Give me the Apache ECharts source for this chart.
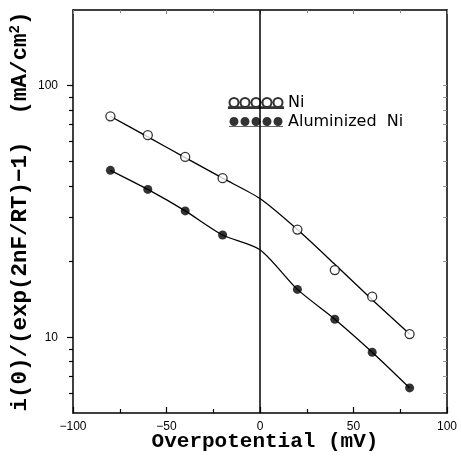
<!DOCTYPE html>
<html>
<head>
<meta charset="utf-8">
<script src="https://cdn.jsdelivr.net/npm/echarts@6/dist/echarts.min.js"></script>
<style>
html,body{margin:0;padding:0;background:#fff;}
#chart{width:461px;height:456px;}
</style>
</head>
<body>
<div id="chart"></div>
<script>
// Data
const xPoints = [-80, -60, -40, -20, 20, 40, 60, 80];
const niValues = [75.6, 63.6, 52.1, 42.9, 26.8, 18.5, 14.5, 10.3];
const alValues = [46.1, 38.7, 31.8, 25.5, 15.5, 11.8, 8.72, 6.29];
// Fitted curves as drawn in the picture (bend at 0 mV)
const fitX = [-80, -60, -40, -20, 0, 20, 40, 60, 80];
const niFit = [75.6, 62.6, 51.8, 42.9, 35.6, 26.8, 19.5, 14.1, 10.3];
const alFit = [46.1, 38.7, 31.8, 25.5, 22.3, 15.5, 11.8, 8.72, 6.29];
// Axis ticks
const xMin = -100, xMax = 100, xInterval = 50;
const yMin = 5, yMax = 200;
const yMajorTicks = [10, 100];
const yMinorTicks = [6, 7, 8, 9, 20, 30, 40, 50, 60, 70, 80, 90];
const seriesNames = ['Ni', 'Aluminized  Ni'];

const pair = (xs, ys) => xs.map((x, i) => [x, ys[i]]);
const fmtX = v => (v < 0 ? '\u2212' + Math.abs(v) : String(v));

const legendIcon = 'path://' +
  [0, 11, 22, 33, 44].map(cx =>
    'M' + (cx + 0.5) + ',4.5a4.5,4.5 0 1,0 9,0a4.5,4.5 0 1,0 -9,0Z').join('') +
  'M0,9.2L54,9.2L54,10L0,10Z';

const chart = echarts.init(document.getElementById('chart'), null, {renderer: 'canvas'});
const axisFont = {fontFamily: 'Liberation Sans, Arial, sans-serif', fontSize: 12, color: '#000'};
const titleFont = {fontFamily: 'Liberation Mono, DejaVu Sans Mono, monospace', fontWeight: 'bold', color: '#000'};

chart.setOption({
  animation: false,
  backgroundColor: '#fff',
  grid: {left: 73, right: 14, top: 10, bottom: 43, containLabel: false, outerBoundsMode: 'none'},
  legend: {
    orient: 'vertical',
    left: 228, top: 95, padding: 0,
    itemWidth: 54, itemHeight: 10, itemGap: 3,
    icon: legendIcon,
    data: seriesNames,
    textStyle: {fontFamily: 'DejaVu Sans, Verdana, sans-serif', fontSize: 16, color: '#000'},
    selectedMode: false
  },
  xAxis: [{
    type: 'value', min: xMin, max: xMax, interval: xInterval,
    position: 'bottom',
    name: 'Overpotential (mV)', nameLocation: 'middle', nameGap: 18, nameMoveOverlap: false,
    nameTextStyle: Object.assign({fontSize: 21, padding: [0, 0, 0, 10]}, titleFont),
    axisLine: {show: true, onZero: false, lineStyle: {color: '#000', width: 1.5}},
    axisTick: {show: true, inside: true, length: 6, lineStyle: {color: '#000', width: 1.2}},
    minorTick: {show: true, splitNumber: 2, length: 4, lineStyle: {color: '#000', width: 1.2}},
    axisLabel: Object.assign({formatter: fmtX, margin: 8}, axisFont),
    splitLine: {show: false}
  }, {
    type: 'value', min: xMin, max: xMax, interval: xInterval,
    position: 'top',
    axisLine: {show: true, onZero: false, lineStyle: {color: '#000', width: 1.5}},
    axisTick: {show: true, inside: true, length: 4, lineStyle: {color: '#888', width: 1}},
    minorTick: {show: true, splitNumber: 2, length: 3, lineStyle: {color: '#888', width: 1}},
    axisLabel: {show: false},
    splitLine: {show: false}
  }],
  yAxis: [{
    type: 'log', logBase: 10, min: yMin, max: yMax,
    position: 'left',
    name: 'i(0)/(exp(2nF/RT)\u22121)  (mA/cm{sup|2})',
    nameLocation: 'middle', nameGap: 41, nameRotate: 90, nameMoveOverlap: false,
    nameTextStyle: Object.assign({fontSize: 22.5, rich: {sup: Object.assign({fontSize: 14, verticalAlign: 'top', padding: [0, 0, 10, 0]}, titleFont)}}, titleFont),
    axisLine: {show: true, onZero: false, lineStyle: {color: '#000', width: 1.5}},
    axisTick: {show: true, inside: false, length: 6, customValues: yMajorTicks, lineStyle: {color: '#000', width: 1.2}},
    axisLabel: Object.assign({customValues: yMajorTicks, margin: 15}, axisFont),
    splitLine: {show: false}
  }, {
    type: 'log', logBase: 10, min: yMin, max: yMax,
    position: 'left',
    axisLine: {show: false, onZero: false},
    axisTick: {show: true, inside: false, length: 4, customValues: yMinorTicks, lineStyle: {color: '#000', width: 1.2}},
    axisLabel: {show: false},
    splitLine: {show: false}
  }, {
    type: 'log', logBase: 10, min: yMin, max: yMax,
    position: 'right',
    axisLine: {show: true, onZero: false, lineStyle: {color: '#000', width: 1.5}},
    axisTick: {show: true, inside: true, length: 4, customValues: yMajorTicks.concat(yMinorTicks), lineStyle: {color: '#999', width: 1}},
    axisLabel: {show: false},
    splitLine: {show: false}
  }],
  series: [{
    name: 'NiFit', type: 'line', xAxisIndex: 0, yAxisIndex: 0,
    data: pair(fitX, niFit), smooth: 0.25, showSymbol: false, symbol: 'none',
    lineStyle: {color: '#000', width: 1.3}, z: 2,
    markLine: {
      silent: true, symbol: ['none', 'none'], label: {show: false},
      lineStyle: {color: '#000', width: 1.5, type: 'solid'},
      data: [{xAxis: 0}]
    }
  }, {
    name: 'AlFit', type: 'line', xAxisIndex: 0, yAxisIndex: 0,
    data: pair(fitX, alFit), smooth: 0.25, showSymbol: false, symbol: 'none',
    lineStyle: {color: '#000', width: 1.3}, z: 2
  }, {
    name: seriesNames[0], type: 'scatter', xAxisIndex: 0, yAxisIndex: 0,
    data: pair(xPoints, niValues), symbol: 'circle', symbolSize: 9,
    itemStyle: {color: '#fff', borderColor: '#000', borderWidth: 1.3}, z: 3
  }, {
    name: seriesNames[1], type: 'scatter', xAxisIndex: 0, yAxisIndex: 0,
    data: pair(xPoints, alValues), symbol: 'circle', symbolSize: 9,
    itemStyle: {color: '#000', borderColor: '#000', borderWidth: 0}, z: 3
  }]
});
</script>
</body>
</html>
